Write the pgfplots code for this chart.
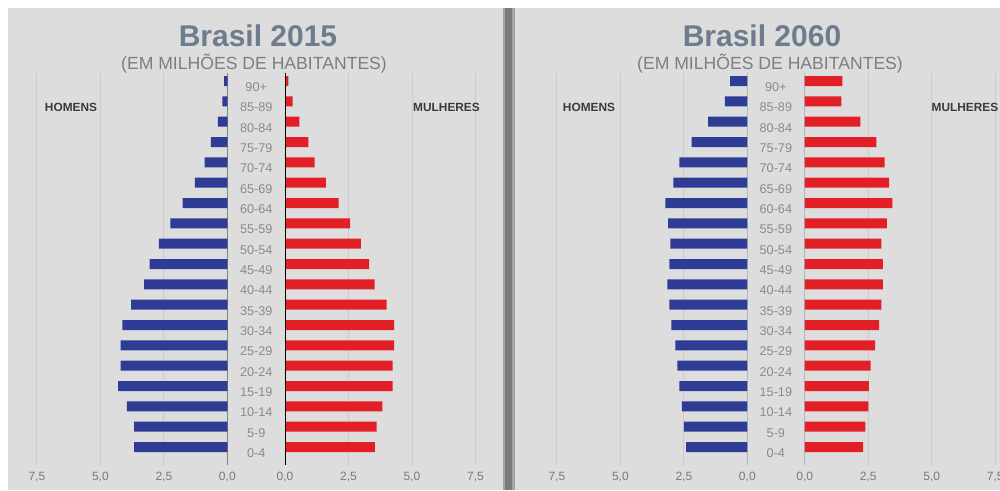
\documentclass[border=0pt]{standalone}
\usepackage{pgfplots}
\usepackage{pgfplotstable}
\pgfplotsset{compat=1.18}
\usepackage{fontspec}
\setmainfont{Liberation Sans}
\definecolor{bgpanel}{HTML}{DDDDDD}
\definecolor{menblue}{HTML}{2E3C96}
\definecolor{womred}{HTML}{E21E26}
\definecolor{titlecol}{HTML}{6D7C8E}
\definecolor{subcol}{HTML}{7E7E7E}
\definecolor{tickcol}{HTML}{7A7A7A}
\definecolor{agecol}{HTML}{8A8A8A}
\definecolor{gridcol}{HTML}{CBCBCB}
\definecolor{divlight}{HTML}{A4A4A4}
\definecolor{divdark}{HTML}{7A7A7A}
\definecolor{lblcol}{HTML}{3A3A3A}
\definecolor{zero60}{HTML}{8796A6}

\pgfplotstableread{
g m15 f15 m60 f60
0 3.67 3.54 2.41 2.30
1 3.67 3.61 2.50 2.39
2 3.96 3.83 2.58 2.51
3 4.30 4.24 2.68 2.53
4 4.20 4.24 2.76 2.60
5 4.20 4.30 2.83 2.77
6 4.13 4.30 2.99 2.93
7 3.79 4.00 3.07 3.02
8 3.28 3.53 3.15 3.08
9 3.06 3.31 3.07 3.08
10 2.70 2.99 3.03 3.02
11 2.24 2.56 3.12 3.24
12 1.76 2.11 3.23 3.45
13 1.28 1.61 2.91 3.32
14 0.89 1.17 2.68 3.15
15 0.65 0.92 2.19 2.82
16 0.37 0.57 1.54 2.19
17 0.20 0.30 0.88 1.44
18 0.13 0.13 0.68 1.48
}\pyrdata

\pgfplotsset{
  pyr/.style={scale only axis, height=294.3pt, ymin=-0.9, ymax=18.4, xmin=0,
    axis line style={draw=none}, major tick length=0pt,
    xtick={0,2.5,5,7.5}, xticklabels={{0,0},{2,5},{5,0},{7,5}},
    xmajorgrids=true, major grid style={gridcol, line width=0.6pt},
    xticklabel style={anchor=center, yshift=-8.6pt, font=\fontsize{9}{10}\selectfont, text=tickcol},
    xbar, bar width=7.5pt},
  noage/.style={ytick=\empty},
  ages/.style={ytick={0,...,18},
    yticklabels={0-4,5-9,10-14,15-19,20-24,25-29,30-34,35-39,40-44,45-49,50-54,55-59,60-64,65-69,70-74,75-79,80-84,85-89,90+},
    yticklabel style={anchor=center, xshift=-21.6pt, yshift=-4.5pt, font=\fontsize{9.5}{10}\selectfont, text=agecol}},
}

\begin{document}
\begin{tikzpicture}
\useasboundingbox (0,0) rectangle (750pt,367.5pt);
\fill[white] (0,0) rectangle (750pt,367.5pt);
\fill[bgpanel] (6pt,0) rectangle (750pt,361.5pt);
\fill[divlight] (377.6pt,0) rectangle (386.25pt,361.5pt);
\fill[divdark] (378.75pt,0) rectangle (384pt,361.5pt);

% 2015 men
\begin{axis}[pyr, noage, x dir=reverse, xmax=8.5, width=161.9pt,
  at={(170.5pt,18.5pt)}, anchor=south east]
\addplot[fill=menblue, draw=none] table[x=m15, y=g] {\pyrdata};
\draw[black, line width=0.8pt] (axis cs:0,-0.9) -- (axis cs:0,18.4);
\end{axis}
% 2015 women
\begin{axis}[pyr, ages, xmax=8.3, width=158.1pt,
  at={(213.75pt,18.5pt)}, anchor=south west]
\addplot[fill=womred, draw=none] table[x=f15, y=g] {\pyrdata};
\draw[black, line width=0.8pt] (axis cs:0,-0.9) -- (axis cs:0,18.4);
\end{axis}
% 2060 men
\begin{axis}[pyr, noage, x dir=reverse, xmax=8.8, width=167.6pt,
  at={(560.5pt,18.5pt)}, anchor=south east]
\addplot[fill=menblue, draw=none] table[x=m60, y=g] {\pyrdata};
\draw[zero60, line width=0.8pt] (axis cs:0,-0.9) -- (axis cs:0,18.4);
\end{axis}
% 2060 women
\begin{axis}[pyr, ages, xmax=7.69, width=146.5pt,
  at={(603.5pt,18.5pt)}, anchor=south west]
\addplot[fill=womred, draw=none] table[x=f60, y=g] {\pyrdata};
\draw[zero60, line width=0.8pt] (axis cs:0,-0.9) -- (axis cs:0,18.4);
\end{axis}

\node[anchor=base, font=\fontsize{22.5}{24}\bfseries\selectfont, text=titlecol] at (193.5pt,332.25pt) {Brasil 2015};
\node[anchor=base, font=\fontsize{13.2}{14}\selectfont, text=subcol] at (190.5pt,315pt) {(EM MILHÕES DE HABITANTES)};
\node[anchor=base, font=\fontsize{22.5}{24}\bfseries\selectfont, text=titlecol] at (571.5pt,332.25pt) {Brasil 2060};
\node[anchor=base, font=\fontsize{13.2}{14}\selectfont, text=subcol] at (577.5pt,315pt) {(EM MILHÕES DE HABITANTES)};

\node[anchor=base, font=\fontsize{8.9}{10}\bfseries\selectfont, text=lblcol] at (53.25pt,283.5pt) {HOMENS};
\node[anchor=base, font=\fontsize{8.9}{10}\bfseries\selectfont, text=lblcol] at (334.9pt,283.5pt) {MULHERES};
\node[anchor=base, font=\fontsize{8.9}{10}\bfseries\selectfont, text=lblcol] at (441.75pt,283.5pt) {HOMENS};
\node[anchor=base, font=\fontsize{8.9}{10}\bfseries\selectfont, text=lblcol] at (723.75pt,283.5pt) {MULHERES};
\end{tikzpicture}
\end{document}
